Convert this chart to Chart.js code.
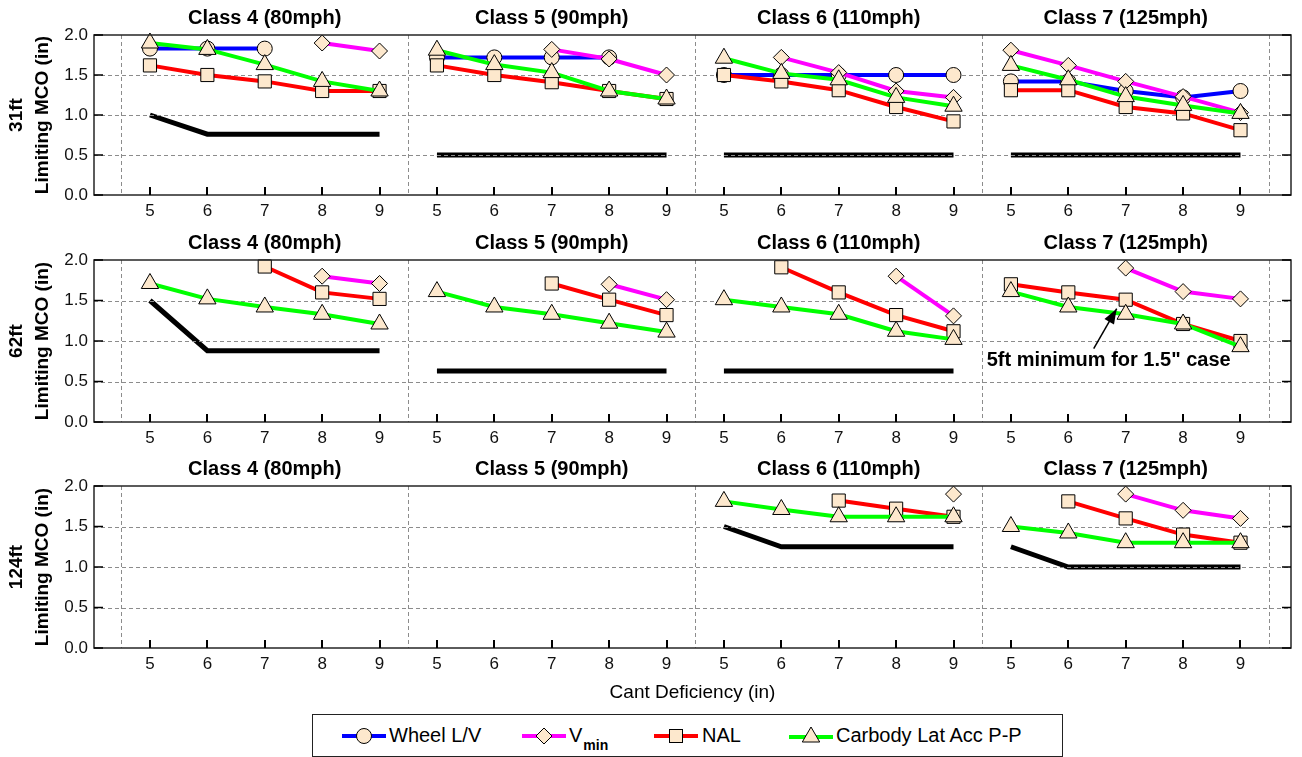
<!DOCTYPE html>
<html>
<head>
<meta charset="utf-8">
<title>Limiting MCO vs Cant Deficiency</title>
<script src="https://cdn.jsdelivr.net/npm/chart.js@4.4.1/dist/chart.umd.min.js"></script>
<style>
  html, body { margin: 0; padding: 0; background: #fff; }
  #page { position: relative; width: 1302px; height: 757px; overflow: hidden;
          font-family: "Liberation Sans", Arial, Helvetica, sans-serif; color: #000; }
  #page canvas { position: absolute; left: 0; }
  #legend { position: absolute; left: 312px; top: 714px; width: 751px; height: 43px;
            border: 1px solid #222; box-sizing: border-box; background: #fff; }
  .item { position: absolute; top: 0; height: 41px; }
  .item svg { position: absolute; top: 10px; }
  .item span { position: absolute; top: 9px; font-size: 20px; white-space: nowrap; }
  .item sub { font-size: 14px; font-weight: bold; position: relative; top: 3px; margin-left: 1px; }
</style>
</head>
<body>
<div id="page">
  <canvas id="row0" width="1302" height="225" style="top:0px"></canvas>
  <canvas id="row1" width="1302" height="227" style="top:225px"></canvas>
  <canvas id="row2" width="1302" height="256" style="top:452px"></canvas>
  <div id="legend">
    <div class="item" style="left:29px">
      <svg width="44" height="22"><line x1="0" y1="11" x2="44" y2="11" stroke="#0000ff" stroke-width="4"/>
        <circle cx="22" cy="11" r="7.5" fill="#fde8cd" stroke="#000" stroke-width="1"/></svg>
      <span style="left:47px">Wheel L/V</span>
    </div>
    <div class="item" style="left:209px">
      <svg width="44" height="22"><line x1="0" y1="11" x2="44" y2="11" stroke="#ff00ff" stroke-width="4"/>
        <polygon points="22,3 30,11 22,19 14,11" fill="#fde8cd" stroke="#000" stroke-width="1"/></svg>
      <span style="left:47px">V<sub>min</sub></span>
    </div>
    <div class="item" style="left:341px">
      <svg width="44" height="22"><line x1="0" y1="11" x2="44" y2="11" stroke="#ff0000" stroke-width="4"/>
        <rect x="15.5" y="4.5" width="13" height="13" fill="#fde8cd" stroke="#000" stroke-width="1"/></svg>
      <span style="left:48px">NAL</span>
    </div>
    <div class="item" style="left:476px">
      <svg width="44" height="22"><line x1="0" y1="12" x2="44" y2="12" stroke="#00ff00" stroke-width="4"/>
        <polygon points="22,2 30.7,17 13.3,17" fill="#fde8cd" stroke="#000" stroke-width="1"/></svg>
      <span style="left:47px">Carbody Lat Acc P-P</span>
    </div>
  </div>
</div>

<script>
// ---- axes ----
const cantDeficiency = [5, 6, 7, 8, 9];
const classTitles = ['Class 4 (80mph)', 'Class 5 (90mph)', 'Class 6 (110mph)', 'Class 7 (125mph)'];
const wavelengths = ['31ft', '62ft', '124ft'];
const mcoTicks = [0, 0.5, 1.0, 1.5, 2.0];

// ---- 31 ft wavelength (rows: class 4..7, columns: cant deficiency 5..9 in) ----
const wheelLV31 = [
  [1.83, 1.83, 1.83, null, null],
  [1.72, 1.72, 1.72, 1.72, null],
  [1.5, 1.5, 1.5, 1.5, 1.5],
  [1.42, 1.42, 1.3, 1.22, 1.3]
];
const vmin31 = [
  [null, null, null, 1.9, 1.8],
  [null, null, 1.82, 1.7, 1.5],
  [null, 1.72, 1.53, 1.3, 1.22],
  [1.81, 1.62, 1.42, 1.23, 1.03]
];
const nal31 = [
  [1.62, 1.5, 1.42, 1.3, 1.3],
  [1.62, 1.5, 1.41, 1.3, 1.2],
  [1.5, 1.42, 1.31, 1.1, 0.92],
  [1.31, 1.31, 1.1, 1.02, 0.81]
];
const carbody31 = [
  [1.9, 1.82, 1.63, 1.42, 1.3],
  [1.81, 1.63, 1.53, 1.3, 1.2],
  [1.71, 1.52, 1.44, 1.22, 1.11],
  [1.62, 1.44, 1.23, 1.12, 1.02]
];
const limit31 = [
  [1.0, 0.76, 0.76, 0.76, 0.76],
  [0.5, 0.5, 0.5, 0.5, 0.5],
  [0.5, 0.5, 0.5, 0.5, 0.5],
  [0.5, 0.5, 0.5, 0.5, 0.5]
];

// ---- 62 ft wavelength ----
const vmin62 = [
  [null, null, null, 1.8, 1.71],
  [null, null, null, 1.7, 1.51],
  [null, null, null, 1.8, 1.31],
  [null, null, 1.9, 1.61, 1.52]
];
const nal62 = [
  [null, null, 1.92, 1.6, 1.52],
  [null, null, 1.71, 1.51, 1.32],
  [null, 1.91, 1.6, 1.32, 1.12],
  [1.7, 1.6, 1.51, 1.21, 1.0]
];
const carbody62 = [
  [1.71, 1.52, 1.42, 1.33, 1.21],
  [1.61, 1.42, 1.33, 1.22, 1.11],
  [1.51, 1.42, 1.33, 1.12, 1.02],
  [1.61, 1.42, 1.33, 1.21, 0.93]
];
const limit62 = [
  [1.5, 0.88, 0.88, 0.88, 0.88],
  [0.63, 0.63, 0.63, 0.63, 0.63],
  [0.63, 0.63, 0.63, 0.63, 0.63],
  [null, null, null, null, null]
];

// ---- 124 ft wavelength ----
const vmin124 = [
  [null, null, null, null, null],
  [null, null, null, null, null],
  [null, null, null, null, 1.9],
  [null, null, 1.9, 1.7, 1.6]
];
const nal124 = [
  [null, null, null, null, null],
  [null, null, null, null, null],
  [null, null, 1.82, 1.72, 1.62],
  [null, 1.81, 1.6, 1.4, 1.3]
];
const carbody124 = [
  [null, null, null, null, null],
  [null, null, null, null, null],
  [1.81, 1.71, 1.62, 1.62, 1.62],
  [1.5, 1.42, 1.3, 1.3, 1.3]
];
const limit124 = [
  [null, null, null, null, null],
  [null, null, null, null, null],
  [1.5, 1.25, 1.25, 1.25, 1.25],
  [1.25, 1.0, 1.0, 1.0, 1.0]
];

const noteText = '5ft minimum for 1.5" case';

// ---- styling ----
const FONT = '"Liberation Sans", Arial, Helvetica, sans-serif';
const MARKER_FILL = '#fde8cd';
const seriesStyle = {
  wheelLV: { color: '#0000ff', pointStyle: 'circle',   radius: 7.5, order: 4 },
  vmin:    { color: '#ff00ff', pointStyle: 'rectRot',  radius: 8,   order: 3 },
  nal:     { color: '#ff0000', pointStyle: 'rect',     radius: 9.3, order: 2 },
  carbody: { color: '#00ff00', pointStyle: 'triangle', radius: 10,  order: 1 }
};

const rowSeries = [
  { wheelLV: wheelLV31, vmin: vmin31, nal: nal31, carbody: carbody31, limit: limit31 },
  { vmin: vmin62, nal: nal62, carbody: carbody62, limit: limit62 },
  { vmin: vmin124, nal: nal124, carbody: carbody124, limit: limit124 }
];
const rowLayout = [
  { padTop: 35, axisH: 30 },
  { padTop: 35, axisH: 30 },
  { padTop: 34, axisH: 60 }
];

// position along the shared x axis: class block * 5 + index of cant deficiency
const xPos = (g, i) => g * cantDeficiency.length + i;
const xTickValues = [];
classTitles.forEach((_, g) => cantDeficiency.forEach((_, i) => xTickValues.push(xPos(g, i))));

function points(values, g) {
  return cantDeficiency.map((cd, i) => ({ x: xPos(g, i), y: values[g][i] }));
}

function buildDatasets(series) {
  const sets = [];
  if (series.limit) {
    classTitles.forEach((_, g) => sets.push({
      data: points(series.limit, g), isLimit: true, order: 10,
      borderColor: '#000', borderWidth: 5, pointRadius: 0, fill: false,
      spanGaps: false, clip: false, borderCapStyle: 'butt', borderJoinStyle: 'miter'
    }));
  }
  Object.keys(seriesStyle).forEach(key => {
    if (!series[key]) return;
    const s = seriesStyle[key];
    classTitles.forEach((_, g) => sets.push({
      data: points(series[key], g), order: s.order,
      borderColor: s.color, borderWidth: 4, fill: false, spanGaps: false, clip: false,
      pointStyle: s.pointStyle, pointRadius: s.radius, pointHoverRadius: s.radius,
      pointBackgroundColor: MARKER_FILL, pointBorderColor: '#000', pointBorderWidth: 1
    }));
  });
  return sets;
}

// dashed grid; redrawn over the limit lines so they show the grid dashes
function drawGrid(chart) {
  const { ctx, chartArea: a, scales: { x, y } } = chart;
  ctx.save();
  ctx.strokeStyle = '#8c8c8c';
  ctx.lineWidth = 1;
  ctx.setLineDash([4, 3]);
  ctx.beginPath();
  mcoTicks.slice(1, -1).forEach(v => {
    const yy = Math.round(y.getPixelForValue(v)) + 0.5;
    ctx.moveTo(a.left, yy); ctx.lineTo(a.right, yy);
  });
  for (let g = 0; g <= classTitles.length; g++) {
    const xx = Math.round(x.getPixelForValue(g * cantDeficiency.length - 0.5)) + 0.5;
    ctx.moveTo(xx, a.top); ctx.lineTo(xx, a.bottom);
  }
  ctx.stroke();
  ctx.restore();
}

function drawFrame(chart) {
  const { ctx, chartArea: a, scales: { x, y } } = chart;
  ctx.save();
  ctx.setLineDash([]);
  ctx.strokeStyle = '#262626';
  ctx.lineWidth = 1.5;
  ctx.strokeRect(a.left, a.top, a.right - a.left, a.bottom - a.top);
  ctx.strokeStyle = '#000';
  ctx.lineWidth = 2;
  ctx.beginPath();
  x.ticks.forEach(t => {
    const xx = Math.round(x.getPixelForValue(t.value));
    ctx.moveTo(xx, a.bottom); ctx.lineTo(xx, a.bottom - 8);
  });
  ctx.stroke();
  ctx.lineWidth = 1.5;
  ctx.beginPath();
  y.ticks.forEach(t => {
    const yy = y.getPixelForValue(t.value);
    ctx.moveTo(a.left, yy); ctx.lineTo(a.left + 9, yy);
    ctx.moveTo(a.right, yy); ctx.lineTo(a.right - 9, yy);
  });
  ctx.stroke();
  // class titles above each block
  ctx.fillStyle = '#000';
  ctx.font = 'bold 20px ' + FONT;
  ctx.textAlign = 'center';
  ctx.textBaseline = 'middle';
  classTitles.forEach((t, g) => ctx.fillText(t, x.getPixelForValue(xPos(g, 2)), a.top - 17));
  ctx.restore();
}

// arrow note pointing at the class 7 / 7 in NAL point of the 62 ft row
function drawNote(chart) {
  const { ctx, scales: { x, y } } = chart;
  const px = x.getPixelForValue(xPos(3, 2));
  const py = y.getPixelForValue(nal62[3][2]);
  const tip = { x: px - 9, y: py + 9 };
  const tail = { x: px - 32, y: py + 49 };
  ctx.save();
  ctx.strokeStyle = '#000';
  ctx.fillStyle = '#000';
  ctx.lineWidth = 1.5;
  ctx.beginPath();
  ctx.moveTo(tail.x, tail.y); ctx.lineTo(tip.x, tip.y);
  ctx.stroke();
  const ang = Math.atan2(tip.y - tail.y, tip.x - tail.x);
  const len = 15, half = 5.5;
  const bx = tip.x - Math.cos(ang) * len, by = tip.y - Math.sin(ang) * len;
  ctx.beginPath();
  ctx.moveTo(tip.x, tip.y);
  ctx.lineTo(bx + Math.sin(ang) * half, by - Math.cos(ang) * half);
  ctx.lineTo(bx - Math.sin(ang) * half, by + Math.cos(ang) * half);
  ctx.closePath();
  ctx.fill();
  ctx.font = 'bold 20px ' + FONT;
  ctx.textAlign = 'left';
  ctx.textBaseline = 'middle';
  ctx.fillText(noteText, px - 139, py + 61);
  ctx.restore();
}

const framePlugin = {
  id: 'mcoFrame',
  beforeDatasetsDraw(chart) { chart.$gridOver = false; drawGrid(chart); },
  beforeDatasetDraw(chart, args) {
    if (!chart.$gridOver && !chart.data.datasets[args.index].isLimit) {
      drawGrid(chart);
      chart.$gridOver = true;
    }
  },
  afterDraw(chart) {
    drawFrame(chart);
    if (chart.options.showNote) drawNote(chart);
  }
};

rowSeries.forEach((series, r) => {
  const lay = rowLayout[r];
  const isLast = r === rowSeries.length - 1;
  new Chart(document.getElementById('row' + r), {
    type: 'line',
    data: { datasets: buildDatasets(series) },
    options: {
      responsive: false,
      animation: false,
      devicePixelRatio: 1,
      showNote: r === 1,
      events: [],
      layout: { padding: { top: lay.padTop, right: 11, left: 0, bottom: 0 } },
      plugins: { legend: { display: false }, tooltip: { enabled: false } },
      scales: {
        x: {
          type: 'linear',
          min: -0.975,
          max: 19.88,
          afterBuildTicks: s => { s.ticks = xTickValues.map(v => ({ value: v })); },
          afterFit: s => { s.height = lay.axisH; },
          grid: { display: false, drawTicks: false },
          border: { display: false },
          ticks: {
            autoSkip: false, maxRotation: 0, padding: 6, color: '#111',
            font: { family: FONT, size: 17 },
            callback: (v, i) => String(cantDeficiency[i % cantDeficiency.length])
          },
          title: {
            display: isLast, text: 'Cant Deficiency (in)', color: '#000',
            font: { family: FONT, size: 19 }, padding: { top: 0, bottom: 4 }
          }
        },
        y: {
          min: 0,
          max: 2,
          afterBuildTicks: s => { s.ticks = mcoTicks.map(v => ({ value: v })); },
          afterFit: s => { s.width = 94; },
          grid: { display: false, drawTicks: false },
          border: { display: false },
          ticks: {
            padding: 6, color: '#111',
            font: { family: FONT, size: 17 },
            callback: v => Number(v).toFixed(1)
          },
          title: {
            display: true, text: [wavelengths[r], 'Limiting MCO (in)'], color: '#000',
            font: { family: FONT, size: 19, weight: 'bold', lineHeight: 1.35 },
            padding: { top: 4, bottom: 0 }
          }
        }
      }
    },
    plugins: [framePlugin]
  });
});
</script>
</body>
</html>
